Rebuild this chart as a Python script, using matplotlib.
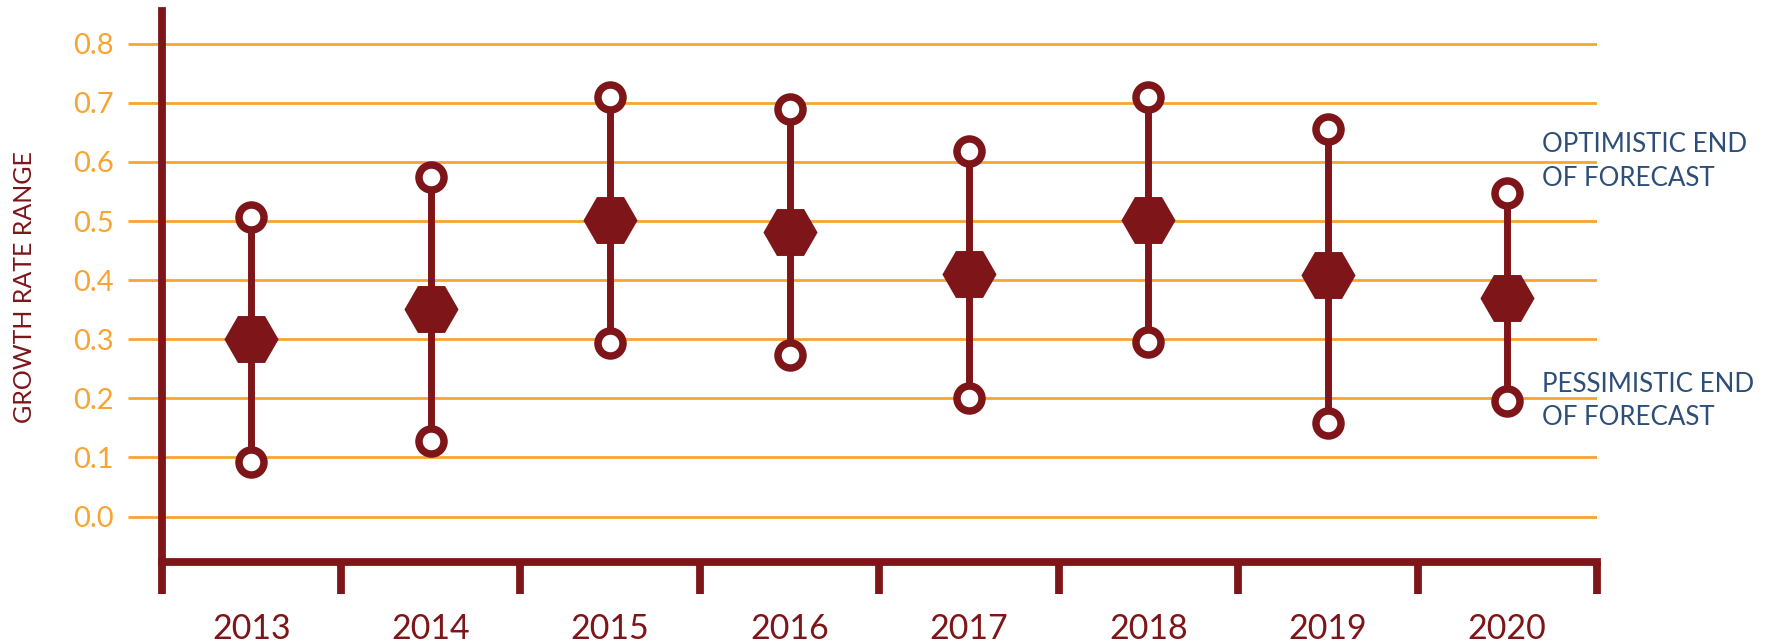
import numpy as np
import matplotlib.pyplot as plt
from matplotlib.ticker import FixedLocator

plt.rcParams['font.family'] = ['Lato', 'DejaVu Sans']

# values
years = ["2013", "2014", "2015", "2016", "2017", "2018", "2019", "2020"]
optimistic = [0.507, 0.574, 0.710, 0.689, 0.618, 0.710, 0.656, 0.547]
central = [0.300, 0.352, 0.501, 0.482, 0.410, 0.501, 0.408, 0.369]
pessimistic = [0.092, 0.128, 0.293, 0.274, 0.201, 0.295, 0.159, 0.195]
y_ticks = [0.0, 0.1, 0.2, 0.3, 0.4, 0.5, 0.6, 0.7, 0.8]

RED = "#7D1519"
ORANGE = "#F8A431"
NAVY = "#2D4E78"

fig = plt.figure(figsize=(17.72, 6.44), dpi=100)
ax = fig.add_axes([0.0912, 0.1273, 0.8100, 0.8552])

x = np.arange(len(years))

# range whiskers
ax.vlines(x, pessimistic, optimistic, color=RED, lw=5, zorder=3)
# ends of forecast: open circles
ax.plot(x, optimistic, "o", ms=18, mew=5.4, mfc="white", mec=RED, zorder=4, ls="none")
ax.plot(x, pessimistic, "o", ms=18, mew=5.4, mfc="white", mec=RED, zorder=4, ls="none")
# central estimate: hexagon
ax.plot(x, central, "H", ms=39, mew=0, color=RED, zorder=5, ls="none")

ax.set_xlim(-0.5, len(years) - 0.5)
ax.set_ylim(-0.077, 0.855)

# y axis
ax.set_yticks(y_ticks)
ax.set_yticklabels([f"{v:.1f}" for v in y_ticks])
ax.tick_params(axis="y", colors=ORANGE, length=24.5, width=2, pad=10, labelsize=21)
ax.yaxis.grid(True, color=ORANGE, lw=2)
ax.set_axisbelow(True)
ax.set_ylabel("GROWTH RATE RANGE", color=RED, fontsize=18)
ax.yaxis.set_label_coords(-0.0955, 0.5)
ax.yaxis.label.set_va("center")

# x axis: labels at the centres, tick marks on the boundaries
ax.set_xticks(x)
ax.set_xticklabels(years)
ax.xaxis.set_minor_locator(FixedLocator(np.arange(len(years) + 1) - 0.5))
ax.tick_params(axis="x", which="major", length=0, pad=37, labelsize=24.5, labelcolor=RED)
ax.tick_params(axis="x", which="minor", length=23, width=5.6, color=RED)

for side in ["top", "right"]:
    ax.spines[side].set_visible(False)
for side in ["left", "bottom"]:
    ax.spines[side].set_color(RED)
    ax.spines[side].set_linewidth(5.6)
    ax.spines[side].set_zorder(6)

ax.text(7.195, 0.601, "OPTIMISTIC END\nOF FORECAST", color=NAVY, fontsize=18.6,
        ha="left", va="center", linespacing=1.42, clip_on=False)
ax.text(7.195, 0.195, "PESSIMISTIC END\nOF FORECAST", color=NAVY, fontsize=18.6,
        ha="left", va="center", linespacing=1.42, clip_on=False)

fig.savefig("out.png", dpi=100)
